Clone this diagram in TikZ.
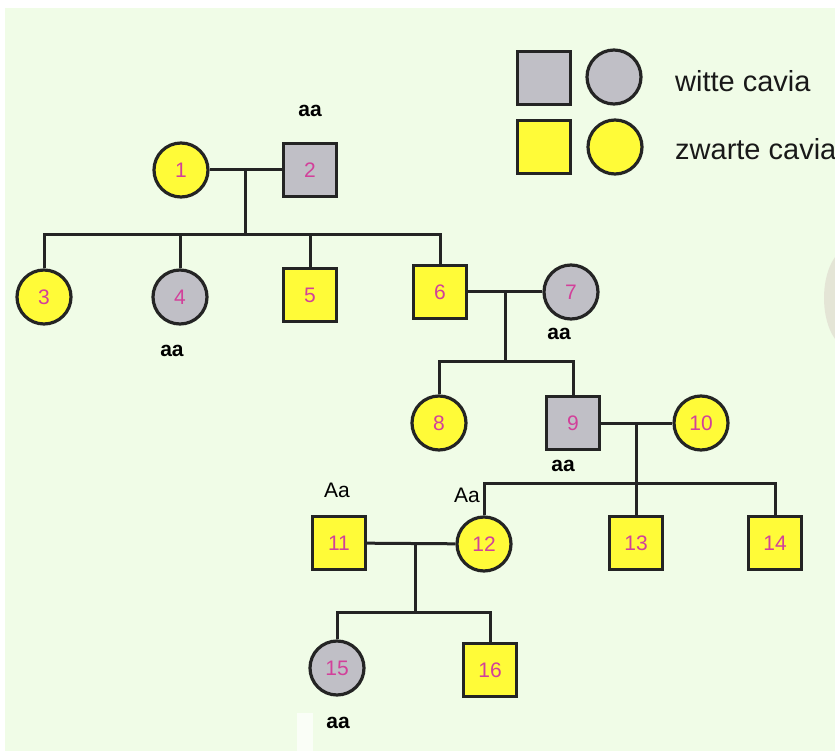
\documentclass[tikz,border=0pt]{standalone}
\usepackage{fontspec}
\setmainfont{Liberation Sans}
\usetikzlibrary{calc}

\definecolor{bgc}{HTML}{F0FCE7}
\definecolor{grayfill}{HTML}{C0BFC6}
\definecolor{yellowfill}{HTML}{FFFB38}
\definecolor{numc}{HTML}{D2409A}
\definecolor{linec}{HTML}{242424}
\definecolor{blobc}{HTML}{DCD6CC}

\tikzset{
  x=1pt, y=-1pt,
  person/.style={draw=linec, line width=3.2pt, inner sep=0pt,
                 font=\fontsize{21}{21}\selectfont, text=numc},
  male/.style={person, rectangle, minimum size=53pt},
  female/.style={person, circle, minimum size=54pt},
  witte/.style={fill=grayfill},
  zwarte/.style={fill=yellowfill},
  link/.style={draw=linec, line width=3pt},
  geno/.style={inner sep=0pt, font=\bfseries\fontsize{21}{21}\selectfont, text=black},
  genoA/.style={inner sep=0pt, font=\fontsize{21}{21}\selectfont, text=black},
  legendtext/.style={inner sep=0pt, anchor=base west,
                     font=\fontsize{29}{29}\selectfont, text=black!90},
}

\begin{document}
\begin{tikzpicture}
\useasboundingbox (0,0) rectangle (835,751);
\clip (0,0) rectangle (835,751);

% background
\fill[white] (0,0) rectangle (835,751);
\fill[bgc] (5,8) rectangle (835,751);
\fill[blobc, opacity=0.6] (850,298) ellipse (26 and 50);
\fill[white, opacity=0.7] (297,713) rectangle (313,751);

% legend
\node[male, witte]    (lw1) at (544,78)  {};
\node[female, witte]  (lw2) at (614,77)  {};
\node[male, zwarte]   (lz1) at (544,147) {};
\node[female, zwarte] (lz2) at (615,147) {};
\node[legendtext] (lwt) at (675,92)  {witte cavia};
\node[legendtext] (lzt) at (675,160) {zwarte cavia};

% generation I
\node[female, zwarte] (n1) at (181,170) {1};
\node[male, witte]    (n2) at (310,170) {2};

% generation II
\node[female, zwarte] (n3) at (44,297)  {3};
\node[female, witte]  (n4) at (180,297) {4};
\node[male, zwarte]   (n5) at (310,295) {5};
\node[male, zwarte]   (n6) at (440,292) {6};
\node[female, witte]  (n7) at (571,292) {7};

% generation III
\node[female, zwarte] (n8)  at (439,423) {8};
\node[male, witte]    (n9)  at (573,423) {9};
\node[female, zwarte] (n10) at (701,423) {10};

% generation IV
\node[male, zwarte]   (n11) at (339,543) {11};
\node[female, zwarte] (n12) at (484,544) {12};
\node[male, zwarte]   (n13) at (636,543) {13};
\node[male, zwarte]   (n14) at (775,543) {14};

% generation V
\node[female, witte]  (n15) at (337,668) {15};
\node[male, zwarte]   (n16) at (490,670) {16};

% genotypes
\node[geno]  (g2)  at (310,111) {aa};
\node[geno]  (g4)  at (172,351) {aa};
\node[geno]  (g7)  at (559,334) {aa};
\node[geno]  (g9)  at (563,466) {aa};
\node[genoA] (g11) at (337,490) {Aa};
\node[genoA] (g12) at (467,495) {Aa};
\node[geno]  (g15) at (338,723) {aa};

% couples and their children
\coordinate (m12) at ($(n1)!0.5!(n2)$);
\coordinate (s1) at (m12 |- 0,235);
\draw[link] (n1) -- (n2);
\draw[link] (m12) -- (s1);
\draw[link] (n3) |- (s1) -| (n6);
\draw[link] (s1) -| (n4);
\draw[link] (s1) -| (n5);

\coordinate (m67) at ($(n6)!0.5!(n7)$);
\coordinate (s2) at (m67 |- 0,361);
\draw[link] (n6) -- (n7);
\draw[link] (m67) -- (s2);
\draw[link] (n8) |- (s2) -| (n9);

\coordinate (m910) at (n13 |- n9);
\coordinate (s3) at (m910 |- 0,483);
\draw[link] (n9) -- (n10);
\draw[link] (m910) -- (n13);
\draw[link] (n12) |- (s3) -| (n14);

\coordinate (m1112) at ($(n11)!0.53!(n12)$);
\coordinate (s4) at (m1112 |- 0,612);
\draw[link] (n11) -- (n12);
\draw[link] (m1112) -- (s4);
\draw[link] (n15) |- (s4) -| (n16);
\end{tikzpicture}
\end{document}
